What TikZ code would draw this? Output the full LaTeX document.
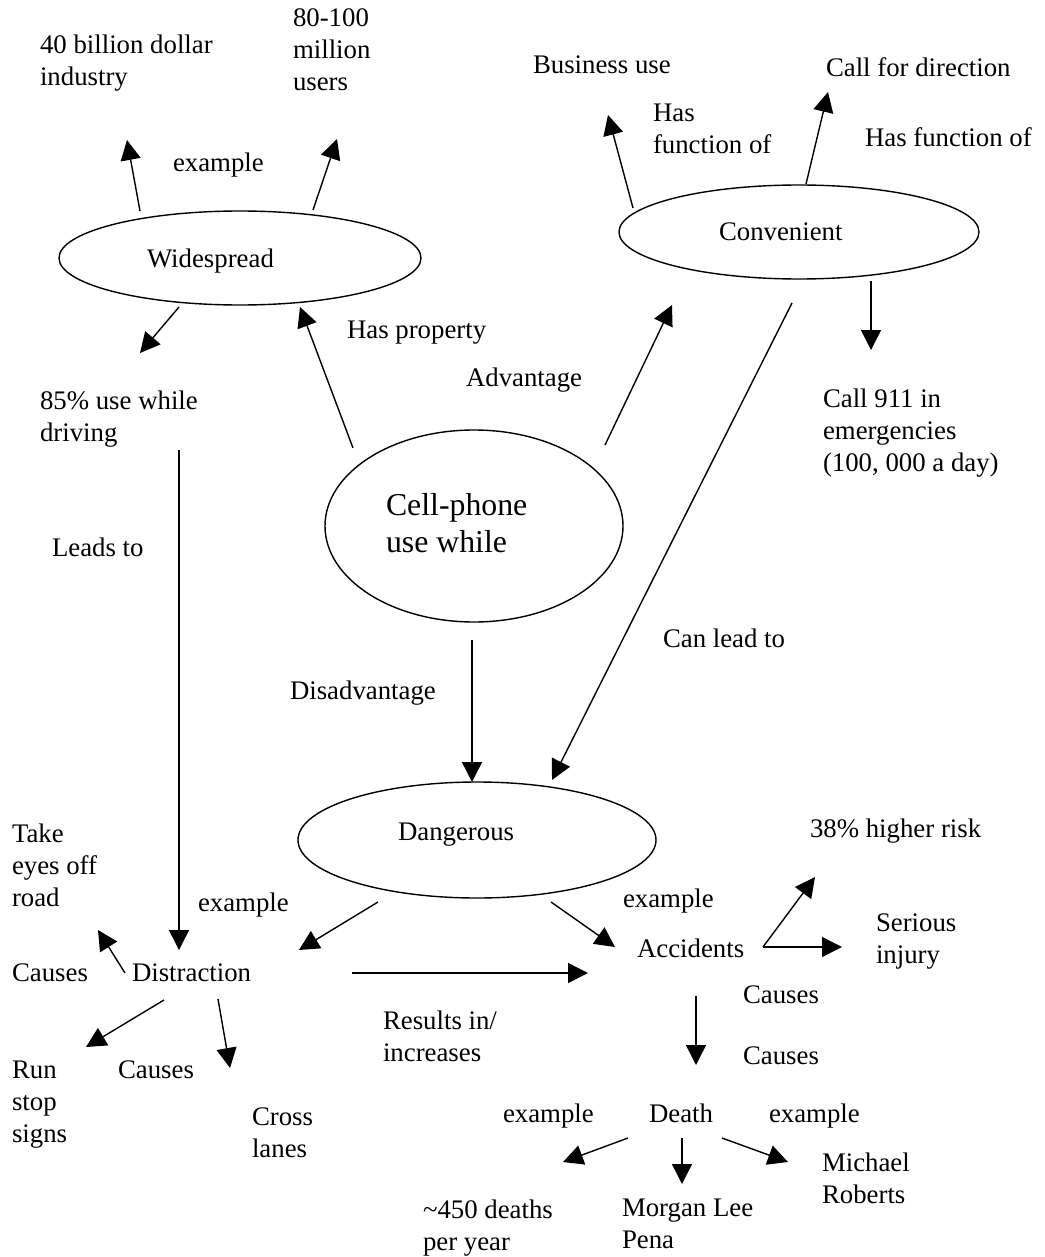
\documentclass[tikz,border=0pt]{standalone}
\usepackage{fontspec}
\setmainfont{Liberation Serif}
\usetikzlibrary{arrows.meta,shapes.geometric,calc}
\newcommand\fsnorm{\fontsize{13.4pt}{16pt}\selectfont}
\newcommand\fsbig{\fontsize{15.9pt}{18.5pt}\selectfont}
\begin{document}
\begin{tikzpicture}[x=0.5pt,y=-0.5pt,
  txt/.style={inner sep=0pt, outer sep=0pt, align=left, anchor=north west, font=\fsnorm, yshift=-1.5pt},
  oval/.style={draw, ellipse, line width=0.7pt, inner sep=0pt, outer sep=0pt},
  arr/.style={-{Triangle[length=10pt,width=10pt]}, line width=0.7pt}]
\fill[white] (0,0) rectangle (1044,1257);
\useasboundingbox (0,0) rectangle (1044,1257);

% ellipses
\node[oval, minimum width=181pt, minimum height=47pt] (wide) at (240,258) {};
\node[oval, minimum width=180pt, minimum height=47pt] (conv) at (799,232) {};
\node[oval, minimum width=149pt, minimum height=96pt] (cell) at (474,526) {};
\node[oval, minimum width=179pt, minimum height=58pt] (dang) at (477,840) {};

% texts
\node[txt] (ind) at (40,32) {40 billion dollar\\industry};
\node[txt] (users) at (293,6) {80-100\\million\\users};
\node[txt] (ex1) at (173,150) {example};
\node[txt] (wideT) at (147,246) {Widespread};
\node[txt] (hasprop) at (347,318) {Has property};
\node[txt] (adv) at (466,365) {Advantage};
\node[txt] (p85) at (40,388) {85\% use while\\driving};
\node[txt] (leads) at (52,535) {Leads to};
\node[txt, font=\fsbig] (cellT) at (386,490) {Cell-phone\\use while};
\node[txt] (dis) at (290,678) {Disadvantage};
\node[txt] (canlead) at (663,626) {Can lead to};
\node[txt] (bus) at (533,53) {Business use};
\node[txt] (hasfn1) at (653,101) {Has\\function of};
\node[txt] (cfd) at (826,55) {Call for direction};
\node[txt] (hasfn2) at (865,125) {Has function of};
\node[txt] (convT) at (719,220) {Convenient};
\node[txt] (c911) at (823,386) {Call 911 in\\emergencies\\(100, 000 a day)};
\node[txt] (takeeyes) at (12,821) {Take\\eyes off\\road};
\node[txt] (dangT) at (398,820) {Dangerous};
\node[txt] (ex2) at (198,890) {example};
\node[txt] (ex3) at (623,886) {example};
\node[txt] (risk) at (810,816) {38\% higher risk};
\node[txt] (serious) at (876,911) {Serious\\injury};
\node[txt] (causes1) at (12,961) {Causes};
\node[txt] (distr) at (132,961) {Distraction};
\node[txt] (acc) at (637,936) {Accidents};
\node[txt] (causes2) at (743,983) {Causes};
\node[txt] (results) at (383,1008) {Results in/\\increases};
\node[txt] (run) at (12,1058) {Run\\stop\\signs};
\node[txt] (causes3) at (118,1058) {Causes};
\node[txt] (cross) at (252,1105) {Cross\\lanes};
\node[txt] (causes4) at (743,1044) {Causes};
\node[txt] (exL) at (503,1101) {example};
\node[txt] (death) at (649,1101) {Death};
\node[txt] (exR) at (769,1101) {example};
\node[txt] (d450) at (423,1197) {\textasciitilde450 deaths\\per year};
\node[txt] (morgan) at (622,1196) {Morgan Lee\\Pena};
\node[txt] (michael) at (822,1150) {Michael\\Roberts};

% connectors
\draw[arr] ($(wide)+(-100,-47)$) -- ($(ind.north west)+(87,105)$);
\draw[arr] ($(wide)+(73,-48)$) -- ($(users.north west)+(44,130)$);
\draw[arr] ($(wide)+(-61,49)$) -- ($(p85.north west)+(100,-38)$);
\draw[arr] ($(cell)+(-121,-78)$) -- ($(wide)+(60,49)$);
\draw[arr] ($(cell)+(131,-81)$) -- ($(conv)+(-127,73)$);
\draw[arr] ($(conv)+(-166,-24)$) -- ($(bus.north west)+(75,59)$);
\draw[arr] ($(conv)+(7,-48)$) -- ($(cfd.north west)+(2,34)$);
\draw[arr] ($(conv)+(72,49)$) -- ($(c911.north west)+(48,-39)$);
\draw[arr] ($(conv)+(-7,71)$) -- ($(dang)+(75,-60)$);
\draw[arr] ($(cell)+(-2,114)$) -- ($(dang)+(-5,-58)$);
\draw[arr] ($(p85.north west)+(139,59)$) -- ($(distr.north west)+(47,-14)$);
\draw[arr] ($(dang)+(-99,62)$) -- ($(distr.north west)+(167,-14)$);
\draw[arr] ($(dang)+(74,62)$) -- ($(acc.north west)+(-22,8)$);
\draw[arr] ($(distr.north west)+(-7,9)$) -- ($(takeeyes.north west)+(86,106)$);
\draw[arr] ($(distr.north west)+(220,9)$) -- ($(acc.north west)+(-49,34)$);
\draw[arr] ($(distr.north west)+(32,36)$) -- ($(run.north west)+(74,-14)$);
\draw[arr] ($(distr.north west)+(86,35)$) -- ($(cross.north west)+(-22,-40)$);
\draw[arr] ($(acc.north west)+(126,8)$) -- ($(risk.north west)+(5,58)$);
\draw[arr] ($(acc.north west)+(126,8)$) -- ($(serious.north west)+(-34,33)$);
\draw[arr] ($(acc.north west)+(59,57)$) -- ($(death.north west)+(47,-39)$);
\draw[arr] ($(death.north west)+(-21,34)$) -- ($(d450.north west)+(140,-38)$);
\draw[arr] ($(death.north west)+(33,34)$) -- ($(morgan.north west)+(60,-15)$);
\draw[arr] ($(death.north west)+(73,34)$) -- ($(michael.north west)+(-34,9)$);
\end{tikzpicture}
\end{document}
